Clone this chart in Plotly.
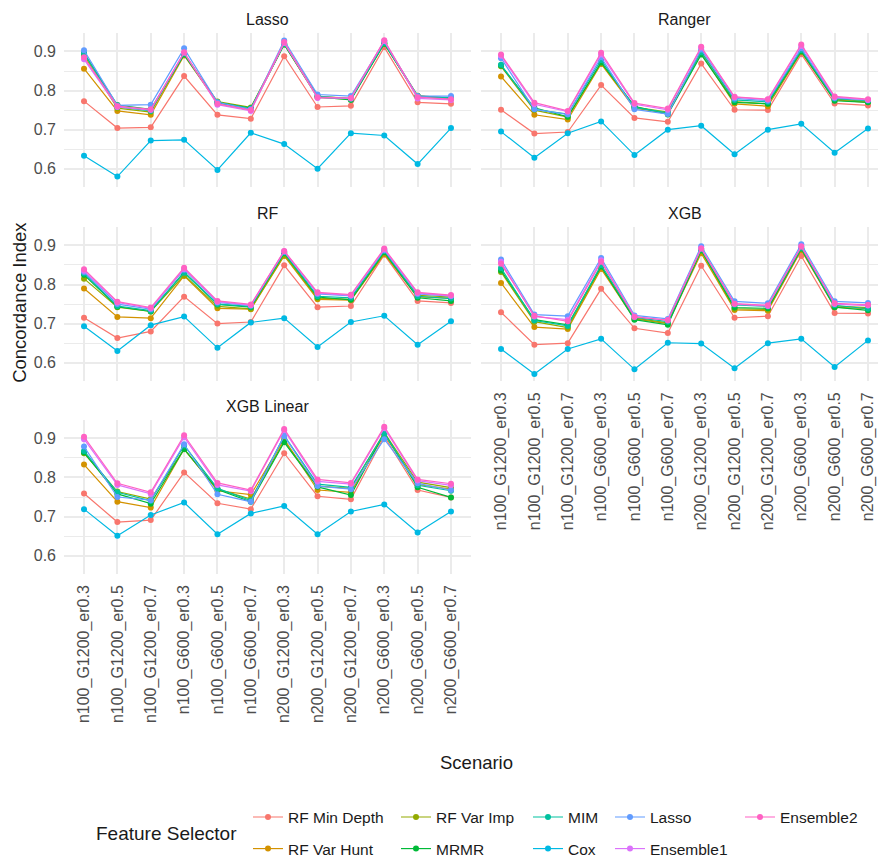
import plotly.graph_objects as go

W, H = 886, 858

SCENARIOS = ["n100_G1200_er0.3", "n100_G1200_er0.5", "n100_G1200_er0.7",
             "n100_G600_er0.3", "n100_G600_er0.5", "n100_G600_er0.7",
             "n200_G1200_er0.3", "n200_G1200_er0.5", "n200_G1200_er0.7",
             "n200_G600_er0.3", "n200_G600_er0.5", "n200_G600_er0.7"]

SELECTORS = ["RF Min Depth", "RF Var Hunt", "RF Var Imp", "MRMR", "MIM",
             "Cox", "Lasso", "Ensemble1", "Ensemble2"]
COLORS = ["#F8766D", "#D39200", "#93AA00", "#00BA38", "#00C19F",
          "#00B9E3", "#619CFF", "#DB72FB", "#FF61C3"]
MODELS = ["Lasso", "Ranger", "RF", "XGB", "XGB Linear"]

# ---- Lasso panel ----
lasso_min_depth = [0.773, 0.704, 0.706, 0.837, 0.738, 0.728, 0.888, 0.758, 0.761, 0.911, 0.770, 0.766]
lasso_var_hunt  = [0.856, 0.748, 0.738, 0.890, 0.768, 0.752, 0.918, 0.782, 0.778, 0.920, 0.785, 0.778]
lasso_var_imp   = [0.890, 0.755, 0.745, 0.893, 0.772, 0.757, 0.920, 0.785, 0.780, 0.922, 0.787, 0.780]
lasso_mrmr      = [0.895, 0.763, 0.752, 0.892, 0.770, 0.755, 0.918, 0.784, 0.776, 0.920, 0.786, 0.781]
lasso_mim       = [0.896, 0.758, 0.748, 0.895, 0.769, 0.754, 0.920, 0.786, 0.779, 0.922, 0.784, 0.782]
lasso_cox       = [0.633, 0.580, 0.672, 0.674, 0.597, 0.692, 0.663, 0.600, 0.691, 0.685, 0.612, 0.704]
lasso_lasso     = [0.903, 0.762, 0.764, 0.908, 0.770, 0.752, 0.928, 0.790, 0.786, 0.926, 0.786, 0.786]
lasso_ens1      = [0.880, 0.758, 0.750, 0.897, 0.764, 0.748, 0.922, 0.781, 0.780, 0.927, 0.780, 0.776]
lasso_ens2      = [0.885, 0.760, 0.752, 0.898, 0.766, 0.750, 0.924, 0.783, 0.781, 0.929, 0.783, 0.778]

# ---- Ranger panel ----
ranger_min_depth = [0.751, 0.690, 0.694, 0.814, 0.730, 0.720, 0.869, 0.751, 0.750, 0.893, 0.767, 0.762]
ranger_var_hunt  = [0.836, 0.738, 0.726, 0.868, 0.755, 0.742, 0.895, 0.766, 0.760, 0.898, 0.776, 0.770]
ranger_var_imp   = [0.862, 0.750, 0.732, 0.871, 0.758, 0.745, 0.900, 0.772, 0.766, 0.902, 0.778, 0.772]
ranger_mrmr      = [0.864, 0.756, 0.733, 0.872, 0.760, 0.739, 0.892, 0.770, 0.766, 0.900, 0.774, 0.770]
ranger_mim       = [0.866, 0.752, 0.740, 0.878, 0.757, 0.743, 0.898, 0.776, 0.771, 0.904, 0.779, 0.774]
ranger_cox       = [0.695, 0.628, 0.691, 0.721, 0.635, 0.700, 0.710, 0.637, 0.700, 0.715, 0.641, 0.703]
ranger_lasso     = [0.883, 0.752, 0.739, 0.885, 0.752, 0.740, 0.905, 0.780, 0.774, 0.908, 0.781, 0.776]
ranger_ens1      = [0.889, 0.765, 0.746, 0.892, 0.765, 0.751, 0.910, 0.783, 0.777, 0.914, 0.783, 0.776]
ranger_ens2      = [0.892, 0.769, 0.748, 0.897, 0.768, 0.754, 0.912, 0.784, 0.778, 0.918, 0.785, 0.778]

# ---- RF panel ----
rf_min_depth = [0.715, 0.663, 0.680, 0.769, 0.700, 0.704, 0.849, 0.742, 0.745, 0.876, 0.758, 0.753]
rf_var_hunt  = [0.790, 0.717, 0.714, 0.822, 0.739, 0.737, 0.873, 0.762, 0.760, 0.878, 0.768, 0.765]
rf_var_imp   = [0.815, 0.742, 0.731, 0.824, 0.744, 0.738, 0.876, 0.765, 0.762, 0.880, 0.772, 0.768]
rf_mrmr      = [0.825, 0.743, 0.731, 0.832, 0.749, 0.742, 0.880, 0.768, 0.761, 0.883, 0.766, 0.758]
rf_mim       = [0.828, 0.745, 0.733, 0.830, 0.750, 0.744, 0.882, 0.770, 0.766, 0.886, 0.770, 0.764]
rf_cox       = [0.693, 0.630, 0.696, 0.718, 0.638, 0.703, 0.714, 0.640, 0.704, 0.720, 0.646, 0.706]
rf_lasso     = [0.832, 0.750, 0.737, 0.838, 0.754, 0.746, 0.884, 0.776, 0.771, 0.888, 0.776, 0.770]
rf_ens1      = [0.835, 0.754, 0.739, 0.840, 0.756, 0.747, 0.885, 0.778, 0.772, 0.890, 0.778, 0.771]
rf_ens2      = [0.839, 0.756, 0.741, 0.843, 0.758, 0.749, 0.886, 0.780, 0.774, 0.892, 0.780, 0.773]

# ---- XGB panel ----
xgb_min_depth = [0.729, 0.646, 0.650, 0.789, 0.688, 0.676, 0.848, 0.715, 0.719, 0.873, 0.727, 0.726]
xgb_var_hunt  = [0.804, 0.691, 0.686, 0.840, 0.712, 0.700, 0.880, 0.735, 0.733, 0.888, 0.742, 0.738]
xgb_var_imp   = [0.832, 0.705, 0.690, 0.845, 0.714, 0.702, 0.885, 0.738, 0.736, 0.890, 0.745, 0.741]
xgb_mrmr      = [0.836, 0.710, 0.697, 0.846, 0.710, 0.697, 0.888, 0.741, 0.739, 0.892, 0.742, 0.734]
xgb_mim       = [0.842, 0.708, 0.694, 0.850, 0.716, 0.705, 0.890, 0.748, 0.744, 0.894, 0.747, 0.738]
xgb_cox       = [0.635, 0.571, 0.635, 0.661, 0.583, 0.651, 0.649, 0.586, 0.650, 0.661, 0.589, 0.657]
xgb_lasso     = [0.864, 0.723, 0.719, 0.868, 0.721, 0.712, 0.898, 0.757, 0.752, 0.903, 0.757, 0.753]
xgb_ens1      = [0.858, 0.718, 0.710, 0.862, 0.718, 0.708, 0.893, 0.750, 0.745, 0.898, 0.750, 0.746]
xgb_ens2      = [0.853, 0.720, 0.706, 0.858, 0.717, 0.709, 0.892, 0.751, 0.747, 0.897, 0.752, 0.748]

# ---- XGB Linear panel ----
xgbl_min_depth = [0.759, 0.686, 0.691, 0.813, 0.734, 0.719, 0.862, 0.752, 0.744, 0.905, 0.768, 0.749]
xgbl_var_hunt  = [0.833, 0.738, 0.723, 0.873, 0.766, 0.756, 0.898, 0.768, 0.762, 0.910, 0.782, 0.770]
xgbl_var_imp   = [0.862, 0.764, 0.745, 0.872, 0.770, 0.745, 0.893, 0.778, 0.772, 0.915, 0.788, 0.774]
xgbl_mrmr      = [0.864, 0.758, 0.733, 0.873, 0.769, 0.738, 0.890, 0.776, 0.755, 0.914, 0.775, 0.749]
xgbl_mim       = [0.868, 0.762, 0.740, 0.882, 0.772, 0.741, 0.907, 0.783, 0.775, 0.912, 0.780, 0.766]
xgbl_cox       = [0.719, 0.651, 0.704, 0.736, 0.655, 0.708, 0.727, 0.655, 0.713, 0.731, 0.659, 0.713]
xgbl_lasso     = [0.879, 0.750, 0.742, 0.885, 0.757, 0.738, 0.906, 0.778, 0.770, 0.898, 0.785, 0.768]
xgbl_ens1      = [0.898, 0.781, 0.758, 0.903, 0.781, 0.765, 0.921, 0.790, 0.783, 0.926, 0.792, 0.780]
xgbl_ens2      = [0.904, 0.785, 0.762, 0.908, 0.786, 0.768, 0.924, 0.795, 0.786, 0.930, 0.795, 0.784]

PANEL_DATA = {
    "Lasso": [lasso_min_depth, lasso_var_hunt, lasso_var_imp, lasso_mrmr, lasso_mim,
              lasso_cox, lasso_lasso, lasso_ens1, lasso_ens2],
    "Ranger": [ranger_min_depth, ranger_var_hunt, ranger_var_imp, ranger_mrmr, ranger_mim,
               ranger_cox, ranger_lasso, ranger_ens1, ranger_ens2],
    "RF": [rf_min_depth, rf_var_hunt, rf_var_imp, rf_mrmr, rf_mim,
           rf_cox, rf_lasso, rf_ens1, rf_ens2],
    "XGB": [xgb_min_depth, xgb_var_hunt, xgb_var_imp, xgb_mrmr, xgb_mim,
            xgb_cox, xgb_lasso, xgb_ens1, xgb_ens2],
    "XGB Linear": [xgbl_min_depth, xgbl_var_hunt, xgbl_var_imp, xgbl_mrmr, xgbl_mim,
                   xgbl_cox, xgbl_lasso, xgbl_ens1, xgbl_ens2],
}

FONT = "Liberation Sans, Arial, sans-serif"

# panel pixel boxes (left, right, top, bottom)
COL_X = [(56, 463), (473, 880)]
ROW_Y = [(25, 181), (221, 377), (416, 572)]
PANEL_POS = {"Lasso": (0, 0), "Ranger": (1, 0), "RF": (0, 1), "XGB": (1, 1), "XGB Linear": (0, 2)}
SHOW_X = {"XGB", "XGB Linear"}
SHOW_Y = {"Lasso", "RF", "XGB Linear"}

fig = go.Figure()
layout = dict(width=W, height=H, autosize=False,
              margin=dict(l=0, r=0, t=0, b=0),
              paper_bgcolor="white", plot_bgcolor="white",
              font=dict(family=FONT, color="#1A1A1A"),
              showlegend=True, annotations=[])

GRID = "#EBEBEB"
for i, m in enumerate(MODELS):
    n = i + 1
    c, r = PANEL_POS[m]
    x0, x1 = COL_X[c]
    y0, y1 = ROW_Y[r]
    xa = "x" if n == 1 else f"x{n}"
    ya = "y" if n == 1 else f"y{n}"
    layout[f"xaxis{n}"] = dict(
        domain=[x0 / W, x1 / W], anchor=ya, type="category",
        categoryorder="array", categoryarray=SCENARIOS,
        range=[-0.6, len(SCENARIOS) - 0.4],
        showgrid=True, gridcolor=GRID, gridwidth=1.5, zeroline=False, showline=False,
        showticklabels=m in SHOW_X, tickangle=-90, ticks="",
        ticklabelstandoff=7,
        tickfont=dict(family=FONT, size=16, color="#4D4D4D"),
    )
    layout[f"yaxis{n}"] = dict(
        domain=[1 - y1 / H, 1 - y0 / H], anchor=xa,
        range=[0.553, 0.948], tickvals=[0.6, 0.7, 0.8, 0.9],
        ticktext=["0.6", "0.7", "0.8", "0.9"],
        showgrid=True, gridcolor=GRID, gridwidth=1.5, zeroline=False, showline=False,
        minor=dict(tickvals=[0.65, 0.75, 0.85], showgrid=True, gridcolor=GRID, gridwidth=0.8),
        showticklabels=m in SHOW_Y, ticks="", ticklabelstandoff=7,
        tickfont=dict(family=FONT, size=16, color="#4D4D4D"),
    )
    # strip title
    layout["annotations"].append(dict(
        text=m, x=(x0 + x1) / 2 / W, y=1 - (y0 - 13) / H, xref="paper", yref="paper",
        xanchor="center", yanchor="middle", showarrow=False,
        font=dict(family=FONT, size=16, color="#1A1A1A")))
    for j, sel in enumerate(SELECTORS):
        fig.add_trace(go.Scatter(
            x=SCENARIOS, y=PANEL_DATA[m][j], xaxis=xa, yaxis=ya,
            mode="lines+markers", name=sel,
            line=dict(color=COLORS[j], width=1.2),
            marker=dict(color=COLORS[j], size=6),
            showlegend=(n == 1),
            legend="legend" if j == 0 else f"legend{j + 1}",
            hoverinfo="skip",
        ))

# legend: 5 columns x 2 rows, column-major (ggplot style)
TEXT_X = [280, 428, 560, 642, 772]
ROW_LY = [818, 850]
for j, sel in enumerate(SELECTORS):
    col, row = j // 2, j % 2
    key = "legend" if j == 0 else f"legend{j + 1}"
    layout[key] = dict(
        x=(TEXT_X[col] - 40) / W, y=1 - ROW_LY[row] / H,
        xanchor="left", yanchor="middle", orientation="v",
        bgcolor="rgba(0,0,0,0)", borderwidth=0, itemwidth=30,
        font=dict(family=FONT, size=15.5, color="#1A1A1A"),
    )

layout["annotations"] += [
    dict(text="Concordance Index", x=12 / W, y=1 - 298 / H, xref="paper", yref="paper",
         textangle=-90, xanchor="center", yanchor="middle", showarrow=False,
         font=dict(family=FONT, size=18.5, color="#1A1A1A")),
    dict(text="Scenario", x=468 / W, y=1 - 763 / H, xref="paper", yref="paper",
         xanchor="center", yanchor="middle", showarrow=False,
         font=dict(family=FONT, size=18.5, color="#1A1A1A")),
    dict(text="Feature Selector", x=86 / W, y=1 - 834 / H, xref="paper", yref="paper",
         xanchor="left", yanchor="middle", showarrow=False,
         font=dict(family=FONT, size=19, color="#1A1A1A")),
]

fig.update_layout(**layout)
fig.write_html("out.html")
